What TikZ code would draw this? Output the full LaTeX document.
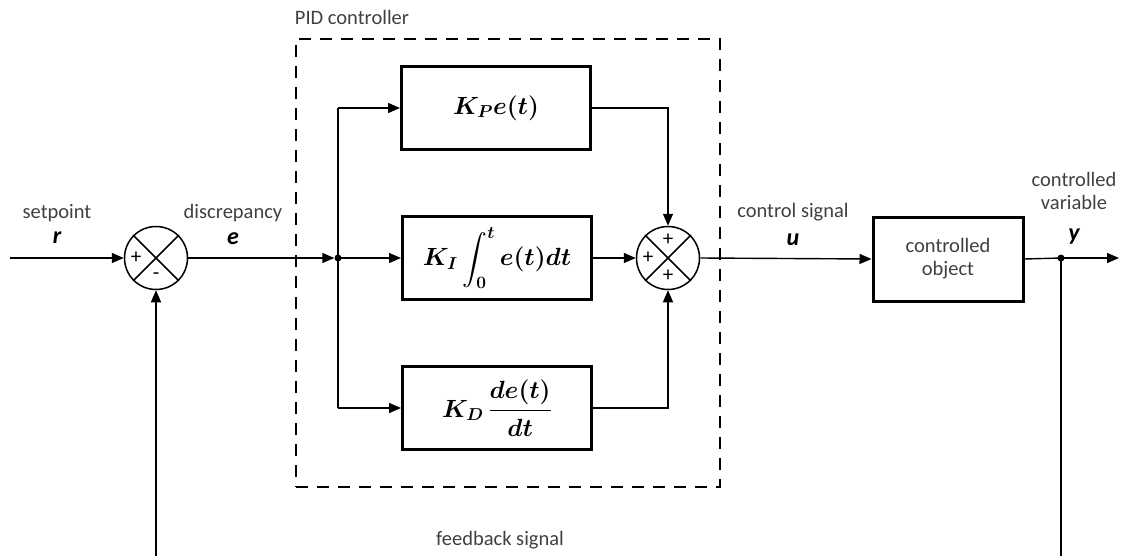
\documentclass[tikz,border=0pt]{standalone}
\usepackage[no-math]{fontspec}
\setmainfont{Carlito}
\usepackage{amsmath}
\usetikzlibrary{arrows.meta}
\definecolor{txtgray}{HTML}{404040}
\tikzset{
  conn/.style={line width=1.4pt},
  arr/.style={conn,-{Triangle[length=12pt,width=10pt]}},
  blk/.style={draw,line width=3pt,minimum width=189pt,minimum height=83pt,inner sep=0pt},
  plantbox/.style={draw,line width=3pt,minimum width=150pt,minimum height=84pt,inner sep=0pt,align=center,
     font=\fontsize{20.5}{23}\selectfont,text=txtgray},
  sumc/.style={draw,circle,line width=1.5pt,minimum size=63pt,inner sep=0pt},
  sgn/.style={font=\fontsize{21}{21}\selectfont,inner sep=0pt},
  lbl/.style={font=\fontsize{20.5}{23}\selectfont,text=txtgray,inner sep=0pt,align=center},
  var/.style={font=\fontsize{24}{24}\selectfont\bfseries\itshape,inner sep=0pt},
  mth/.style={font=\fontsize{26}{30}\selectfont\boldmath,inner sep=0pt},
  pidbox/.style={draw,line width=2.5pt,dash pattern=on 12pt off 9pt,minimum width=424pt,minimum height=448pt,inner sep=0pt},
  dot/.style={circle,fill,inner sep=0pt,minimum size=7pt}
}
\begin{document}
\begin{tikzpicture}[x=1pt,y=-1pt]
\useasboundingbox (0,0) rectangle (1121,556);
% dashed PID box
\node[pidbox] (pid) at (508,263) {};
\node[lbl] (pidl) at (352,17) {PID controller};
% summing junctions
\node[sumc] (s1) at (156,258) {};
\draw[line width=1.5pt] (s1.north west) -- (s1.south east) (s1.north east) -- (s1.south west);
\node[sgn] (s1p) at ([xshift=-20pt]s1.center) {+};
\node[sgn] (s1m) at ([yshift=-18pt]s1.center) {-};
\node[sumc] (s2) at (668,258) {};
\draw[line width=1.5pt] (s2.north west) -- (s2.south east) (s2.north east) -- (s2.south west);
\node[sgn] (s2t) at ([yshift=18pt]s2.center) {+};
\node[sgn] (s2l) at ([xshift=-20pt]s2.center) {+};
\node[sgn] (s2b) at ([yshift=-18pt]s2.center) {+};
% blocks
\node[blk,mth] (kp) at (496,108) {$K_P e(t)$};
\node[blk,mth] (ki) at (497,258) {$\displaystyle K_I\int_0^t e(t)dt$};
\node[blk,mth] (kd) at (497,408) {$\displaystyle K_D\,\frac{de(t)}{dt}$};
\node[plantbox] (plant) at (948,259) {controlled\\object};
% coordinates
\coordinate (in) at (10,258);
\node[dot] (j) at (338,258) {};
\node[dot] (yj) at (1061,258) {};
\coordinate (out) at (1119,258);
\coordinate (fb1) at (1061,556.5);
\coordinate (fb2) at (156,556.5);
% connectors
\draw[arr] (in) -- (s1.west);
\draw[arr] (s1.east) -- (j.west);
\draw[conn] (j.center) -- (j.center |- kp.west);
\draw[conn] (j.center) -- (j.center |- kd.west);
\draw[arr] (j.center |- kp.west) -- (kp.west);
\draw[arr] (j.center) -- (ki.west);
\draw[arr] (j.center |- kd.west) -- (kd.west);
\draw[arr] (kp.east) -| (s2.north);
\draw[arr] (ki.east) -- (s2.west);
\draw[arr] (kd.east) -| (s2.south);
\draw[arr] (s2.east) -- (plant.west);
\draw[conn] (plant.east) -- (yj.center);
\draw[arr] (yj.center) -- (out);
\draw[arr] (yj.center) -- (fb1) -- (fb2) -- (s1.south);
% labels
\node[lbl] (spl) at (57,213) {setpoint};
\node[var] (rl) at (57,238) {r};
\node[lbl] (dl) at (233,213) {discrepancy};
\node[var] (el) at (233,239) {e};
\node[lbl] (csl) at (793,212) {control signal};
\node[var] (ul) at (793,240) {u};
\node[lbl] (cvl) at (1074,191) {controlled\\variable};
\node[var] (yl) at (1074,237) {y};
\node[lbl] (fbl) at (500,540) {feedback signal};
\end{tikzpicture}
\end{document}
